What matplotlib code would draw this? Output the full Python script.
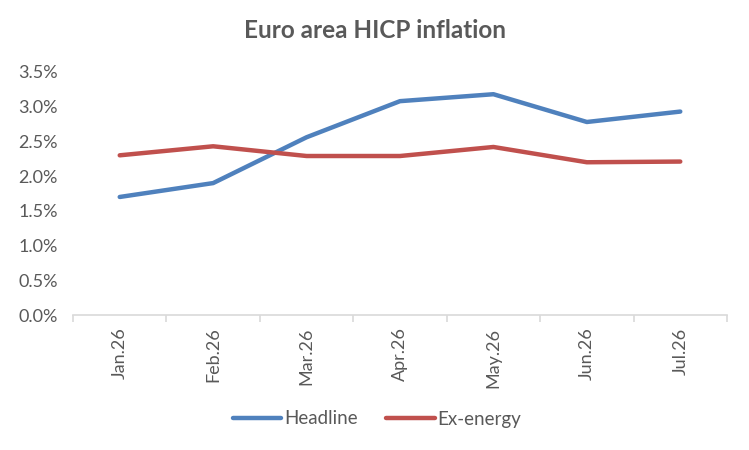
import matplotlib
matplotlib.use('Agg')
import matplotlib.pyplot as plt
from matplotlib.ticker import FuncFormatter, FixedLocator

# Data
months = ['Jan.26', 'Feb.26', 'Mar.26', 'Apr.26', 'May.26', 'Jun.26', 'Jul.26']
headline = [1.70, 1.90, 2.56, 3.08, 3.18, 2.78, 2.93]
ex_energy = [2.30, 2.43, 2.29, 2.29, 2.42, 2.20, 2.21]

plt.rcParams['font.family'] = ['Lato', 'DejaVu Sans']
grey = '#595959'

fig = plt.figure(figsize=(7.49, 4.5), dpi=100)
ax = fig.add_axes([73/749, 1-315/450, (727-73)/749, (315-72)/450])

x = list(range(len(months)))
ax.plot(x, headline, color='#4F81BD', lw=3.2, solid_capstyle='round', label='Headline')
ax.plot(x, ex_energy, color='#C0504D', lw=3.2, solid_capstyle='round', label='Ex-energy')

ax.set_xlim(-0.5, len(months)-0.5)
ax.set_ylim(0, 3.5)
ax.set_yticks([0, 0.5, 1.0, 1.5, 2.0, 2.5, 3.0, 3.5])
ax.yaxis.set_major_formatter(FuncFormatter(lambda v, p: f'{v:.1f}%'))

ax.set_xticks(x)
ax.set_xticklabels(months, rotation=90)
ax.xaxis.set_minor_locator(FixedLocator([i-0.5 for i in range(len(months)+1)]))
ax.tick_params(axis='x', which='major', length=0, pad=9, labelsize=13, labelcolor=grey)
ax.tick_params(axis='x', which='minor', length=5, color='#D9D9D9', width=1.2)
ax.tick_params(axis='y', length=0, pad=11, labelsize=13, labelcolor=grey)

for s in ['top', 'right', 'left']:
    ax.spines[s].set_visible(False)
ax.spines['bottom'].set_color('#D9D9D9')
ax.spines['bottom'].set_linewidth(1.2)

fig.text(375/749, 1-31/450, 'Euro area HICP inflation', ha='center', va='center',
         fontsize=17.5, fontweight='bold', color=grey)

leg = fig.legend(loc='center', bbox_to_anchor=(377/749, 1-419/450), ncol=2, frameon=False,
                 fontsize=13.5, handlelength=2.6, handletextpad=0.15, columnspacing=1.5)
for t in leg.get_texts():
    t.set_color(grey)

fig.savefig('out.png', dpi=100, facecolor='white')
